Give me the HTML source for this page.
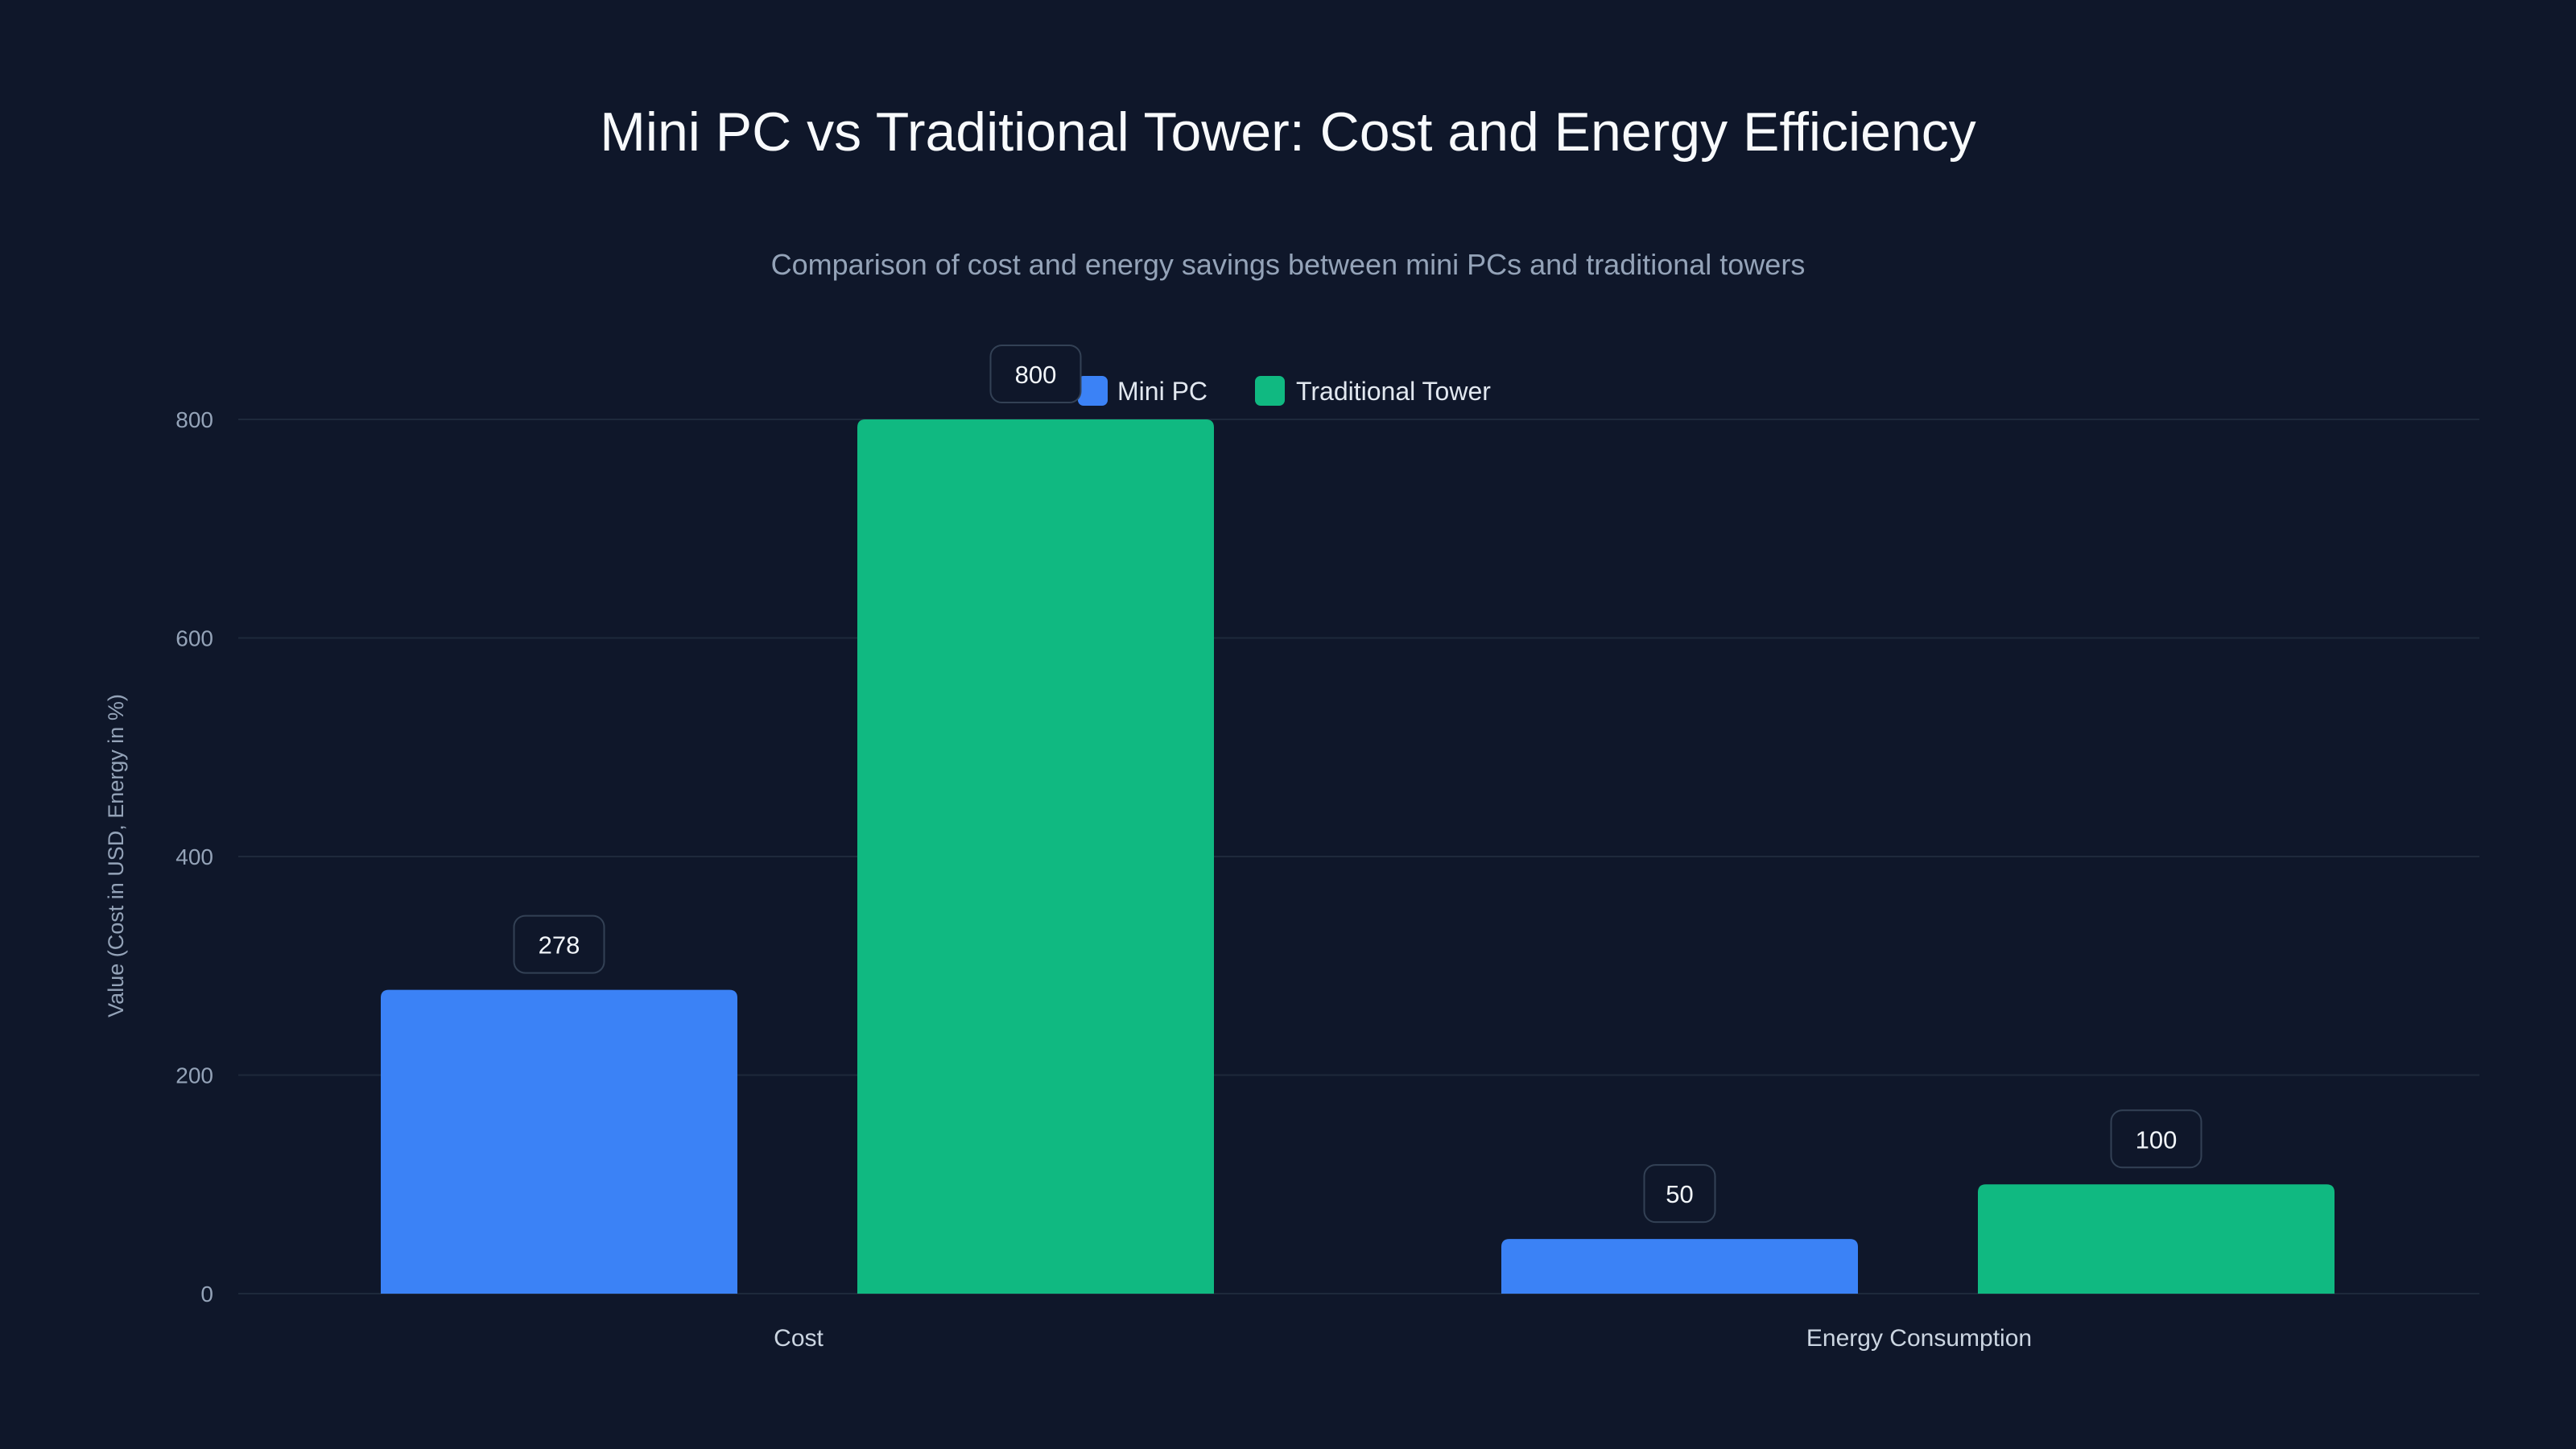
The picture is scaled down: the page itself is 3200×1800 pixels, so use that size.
<!DOCTYPE html>
<html><head><meta charset="utf-8"><style>
html,body{margin:0;padding:0;background:#0f172a;}
svg{display:block;font-family:"Liberation Sans",sans-serif;}
</style></head><body>
<svg id="chart" width="3200" height="1800" viewBox="0 0 3200 1800">
<rect width="3200" height="1800" fill="#0f172a"/>
<text x="1600" y="187" text-anchor="middle" fill="#f8fafc" font-size="68">Mini PC vs Traditional Tower: Cost and Energy Efficiency</text>
<text x="1600" y="341" text-anchor="middle" fill="#94a3b8" font-size="36">Comparison of cost and energy savings between mini PCs and traditional towers</text>
<g>
<rect x="1339" y="467" width="37" height="37" rx="7" fill="#3b82f6"/>
<text x="1388" y="497" fill="#e2e8f0" font-size="32">Mini PC</text>
<rect x="1559" y="467" width="37" height="37" rx="7" fill="#10b981"/>
<text x="1610" y="497" fill="#e2e8f0" font-size="32">Traditional Tower</text>
</g>
<text transform="translate(153,1063) rotate(-90)" text-anchor="middle" fill="#94a3b8" font-size="27">Value (Cost in USD, Energy in %)</text>
<g id="grid"></g><g id="bars"></g><g id="labels"></g>
</svg>
<script>
const categories = ["Cost", "Energy Consumption"];
const miniPC = [278, 50];
const tower = [800, 100];
const yTicks = [0, 200, 400, 600, 800];
const seriesNames = ["Mini PC", "Traditional Tower"];
const seriesColors = ["#3b82f6", "#10b981"];

const NS = "http://www.w3.org/2000/svg";
const L = 296, R = 3080, Y0 = 1607, Y1 = 521, YMAX = 800;
const y = v => Y0 - (v / YMAX) * (Y0 - Y1);
const groupW = (R - L) / categories.length;
const barW = 443, offset = 177, gap = 149;
const xBar = (ci, si) => L + ci * groupW + offset + si * (barW + gap);
function mk(tag, attrs, parent) {
  const e = document.createElementNS(NS, tag);
  for (const k in attrs) e.setAttribute(k, attrs[k]);
  parent.appendChild(e); return e;
}
const grid = document.getElementById("grid"), bars = document.getElementById("bars"), labels = document.getElementById("labels");
yTicks.forEach(t => {
  const ln = mk("line", {x1: L, x2: R, y1: y(t), y2: y(t), stroke: "#1e293b", "stroke-width": 2}, grid);
  
  
  const tx = mk("text", {x: 265, y: y(t) + 10, "text-anchor": "end", fill: "#94a3b8", "font-size": 28}, grid);
  tx.textContent = t;
  
  
});
categories.forEach((c, ci) => {
  const tx = mk("text", {x: L + ci * groupW + groupW / 2, y: 1672, "text-anchor": "middle", fill: "#cbd5e1", "font-size": 30}, labels);
  tx.textContent = c;
  
  
  [miniPC, tower].forEach((s, si) => {
    const v = s[ci], x = xBar(ci, si), top = y(v), r = 10;
    const p = mk("path", {d: `M${x},${Y0} V${top + r} Q${x},${top} ${x + r},${top} H${x + barW - r} Q${x + barW},${top} ${x + barW},${top + r} V${Y0} Z`, fill: seriesColors[si]}, bars);
    
    
    const txt = String(v), bw = 40 + txt.length * 24, cx = x + barW / 2, by = top - 92;
    const box = mk("rect", {x: cx - bw / 2, y: by, width: bw, height: 71, rx: 14, fill: "#0f172a", stroke: "#334155", "stroke-width": 2}, labels);
    
    
    const vt = mk("text", {x: cx, y: by + 47, "text-anchor": "middle", fill: "#f1f5f9", "font-size": 31}, labels);
    vt.textContent = txt;
    
    
  });
});
</script>
</body></html>
